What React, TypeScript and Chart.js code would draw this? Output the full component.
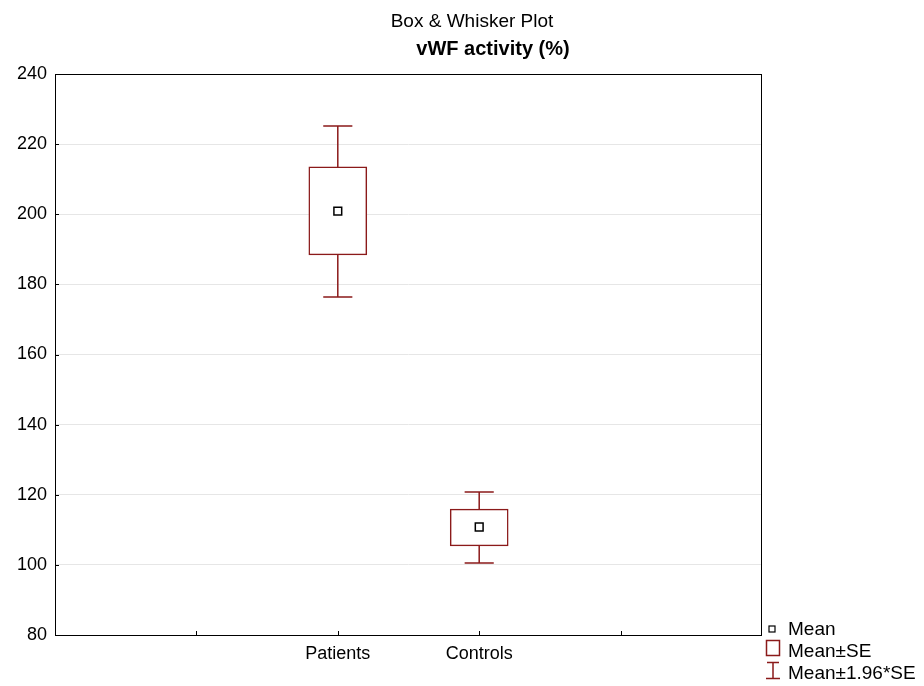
import React, { useEffect, useRef } from "react";
import { Chart, registerables } from "chart.js";

Chart.register(...registerables);

const categories = ["Patients", "Controls"];
const categoryPositions = [2, 3];
const means = [200.9, 110.8];
const seLow = [188.4, 105.4];
const seHigh = [213.5, 115.9];
const ciLow = [176.4, 100.5];
const ciHigh = [225.2, 120.8];
const yTicks = [80, 100, 120, 140, 160, 180, 200, 220, 240];
const legendLabels = ["Mean", "Mean±SE", "Mean±1.96*SE"];
const titleText = "Box & Whisker Plot";
const subtitleText = "vWF activity (%)";

const RED = "#8b1a1a";
const FONT = "'Liberation Sans', Arial, sans-serif";
const CAP_HALF = 0.103;

function buildWhiskers() {
  const pts: any[] = [];
  categoryPositions.forEach((x, i) => {
    // upper whisker
    pts.push({ x, y: seHigh[i] }, { x, y: ciHigh[i] }, { x, y: null });
    pts.push({ x: x - CAP_HALF, y: ciHigh[i] }, { x: x + CAP_HALF, y: ciHigh[i] }, { x, y: null });
    // lower whisker
    pts.push({ x, y: seLow[i] }, { x, y: ciLow[i] }, { x, y: null });
    pts.push({ x: x - CAP_HALF, y: ciLow[i] }, { x: x + CAP_HALF, y: ciLow[i] }, { x, y: null });
  });
  return pts;
}

const decorPlugin = {
  id: "decor",
  afterDatasetsDraw(chart: any) {
    const { ctx, chartArea: a, scales } = chart;
    ctx.save();
    // frame
    ctx.strokeStyle = "#000";
    ctx.lineWidth = 1;
    ctx.strokeRect(a.left + 0.5, a.top + 0.5, a.right - a.left - 1, a.bottom - a.top);
    // inward ticks
    ctx.beginPath();
    [1, 2, 3, 4].forEach((v) => {
      const px = Math.round(scales.x.getPixelForValue(v)) + 0.5;
      ctx.moveTo(px, a.bottom);
      ctx.lineTo(px, a.bottom - 4);
    });
    yTicks.forEach((v) => {
      const py = Math.round(scales.y.getPixelForValue(v)) + 0.5;
      ctx.moveTo(a.left, py);
      ctx.lineTo(a.left + 4, py);
    });
    ctx.stroke();
    ctx.restore();
  },
  afterDraw(chart: any) {
    const { ctx } = chart;
    ctx.save();
    ctx.fillStyle = "#000";
    ctx.textAlign = "center";
    ctx.textBaseline = "alphabetic";
    ctx.font = `19px ${FONT}`;
    ctx.fillText(titleText, 472, 27);
    ctx.font = `bold 20px ${FONT}`;
    ctx.fillText(subtitleText, 493, 55);

    // legend
    ctx.textAlign = "left";
    ctx.font = `19px ${FONT}`;
    const tx = 788;
    const ys = [635, 657, 679];
    // mean marker
    ctx.strokeStyle = "#000";
    ctx.lineWidth = 1.2;
    ctx.fillStyle = "#fff";
    ctx.fillRect(769, 626, 6, 6);
    ctx.strokeRect(769, 626, 6, 6);
    // SE box
    ctx.strokeStyle = RED;
    ctx.lineWidth = 1.5;
    ctx.strokeRect(766.5, 640.5, 13, 15);
    // whisker icon
    ctx.beginPath();
    ctx.moveTo(767, 662.5);
    ctx.lineTo(779, 662.5);
    ctx.moveTo(773, 662.5);
    ctx.lineTo(773, 678.5);
    ctx.moveTo(766, 678.5);
    ctx.lineTo(780, 678.5);
    ctx.stroke();
    ctx.fillStyle = "#000";
    legendLabels.forEach((t, i) => ctx.fillText(t, tx, ys[i]));
    ctx.restore();
  },
};

export default function App() {
  const ref = useRef<HTMLCanvasElement>(null);
  useEffect(() => {
    document.body.style.margin = "0";
    const chart = new Chart(ref.current!, {
      type: "bar",
      data: {
        datasets: [
          {
            type: "line",
            label: "whiskers",
            data: buildWhiskers(),
            borderColor: RED,
            borderWidth: 1.5,
            pointRadius: 0,
            spanGaps: false,
            fill: false,
            order: 3,
          } as any,
          {
            type: "bar",
            label: "Mean±SE",
            data: categoryPositions.map((x, i) => ({ x, y: [seLow[i], seHigh[i]] })),
            backgroundColor: "#ffffff",
            borderColor: RED,
            borderWidth: 1.5,
            borderSkipped: false,
            barThickness: 58,
            order: 2,
          } as any,
          {
            type: "scatter",
            label: "Mean",
            data: categoryPositions.map((x, i) => ({ x, y: means[i] })),
            pointStyle: "rect",
            pointRadius: 5.5,
            pointBackgroundColor: "#fff",
            pointBorderColor: "#000",
            pointBorderWidth: 1.5,
            order: 1,
          } as any,
        ],
      },
      options: {
        animation: false,
        responsive: false,
        layout: { padding: { top: 74, right: 162, left: 0, bottom: 0 } },
        plugins: {
          legend: { display: false },
          title: { display: false },
          tooltip: { enabled: false },
        },
        scales: {
          x: {
            type: "linear",
            min: 0,
            max: 5,
            offset: false,
            grid: { display: false, drawTicks: false },
            border: { display: false },
            afterFit: (s: any) => {
              s.height = 51;
            },
            afterBuildTicks: (s: any) => {
              s.ticks = [0, 1, 2, 3, 4, 5].map((v) => ({ value: v }));
            },
            ticks: {
              autoSkip: false,
              maxRotation: 0,
              padding: 8,
              color: "#000",
              font: { family: FONT, size: 18 },
              callback: (v: any) => {
                const idx = categoryPositions.indexOf(Number(v));
                return idx >= 0 ? categories[idx] : "";
              },
            },
          },
          y: {
            min: 80,
            max: 240,
            afterFit: (s: any) => {
              s.width = 55;
            },
            afterBuildTicks: (s: any) => {
              s.ticks = yTicks.map((v) => ({ value: v }));
            },
            grid: { color: "#e6e6e6", drawTicks: false, lineWidth: 1 },
            border: { display: false },
            ticks: {
              padding: 8,
              color: "#000",
              font: { family: FONT, size: 18 },
            },
          },
        },
      },
      plugins: [decorPlugin],
    } as any);
    return () => chart.destroy();
  }, []);
  return (
    <div style={{ width: 924, height: 686, background: "#fff" }}>
      <canvas ref={ref} width={924} height={686} />
    </div>
  );
}
